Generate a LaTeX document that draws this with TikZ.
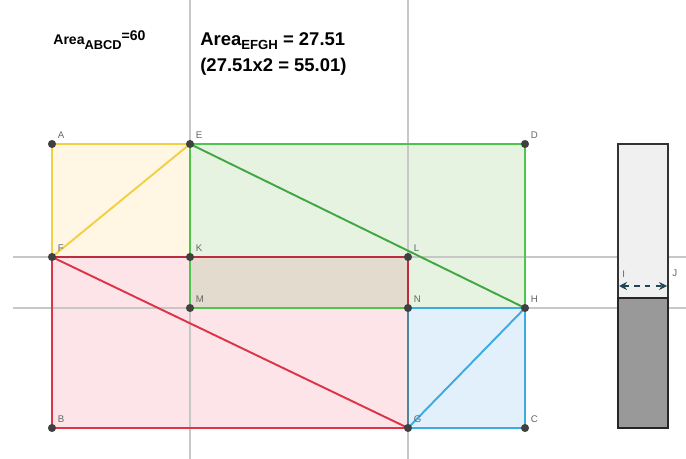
\documentclass[tikz,border=0pt]{standalone}
\usepackage{fontspec}
\setmainfont{Liberation Sans}
\usetikzlibrary{arrows.meta,positioning}
\definecolor{yelline}{RGB}{242,208,70}
\definecolor{yelfill}{RGB}{255,246,228}
\definecolor{grnline}{RGB}{78,196,78}
\definecolor{grnfill}{RGB}{230,243,225}
\definecolor{redline}{RGB}{222,52,72}
\definecolor{redfill}{RGB}{252,228,232}
\definecolor{bluline}{RGB}{62,170,226}
\definecolor{blufill}{RGB}{226,240,252}
\definecolor{mixfill}{RGB}{226,219,206}
\definecolor{arrowcol}{RGB}{30,70,85}
\begin{document}
\begin{tikzpicture}[x=0.02cm,y=-0.02cm,
  guide/.style={black!22,line width=0.8pt},
  edge/.style={line width=1.1pt,line join=round},
  pt/.style={circle,fill=black!75,inner sep=0pt,minimum size=4.6pt},
  lbl/.style={font=\fontsize{5.5}{5.5}\selectfont,text=black!60,inner sep=0.6pt}]
  \useasboundingbox (0,0) rectangle (686,459);
  % points
  \coordinate (A) at (52,144);  \coordinate (E) at (190,144); \coordinate (D) at (525,144);
  \coordinate (F) at (52,257);  \coordinate (K) at (190,257); \coordinate (L) at (408,257);
  \coordinate (M) at (190,308); \coordinate (N) at (408,308); \coordinate (H) at (525,308);
  \coordinate (B) at (52,428);  \coordinate (G) at (408,428); \coordinate (C) at (525,428);
  % fills
  \fill[yelfill] (A) rectangle (K);
  \fill[grnfill] (E) rectangle (H);
  \fill[redfill] (F) rectangle (G);
  \fill[blufill] (N) rectangle (C);
  \fill[mixfill] (K) rectangle (N);
  % guide lines
  \draw[guide] (190,0) -- (190,459);
  \draw[guide] (408,0) -- (408,459);
  \draw[guide] (13,257) -- (686,257);
  \draw[guide] (13,308) -- (686,308);
  % yellow
  \draw[edge,yelline] (F) -- (A) -- (E) -- cycle;
  % green
  \draw[edge,grnline] (M) -- (E) -- (D) -- (H) -- (M);
  \draw[edge,grnline!85!black] (E) -- (H);
  % red
  \draw[edge,redline!85!black] (F) -- (L) -- (N);
  \draw[edge,redline] (F) -- (B) -- (G) -- cycle;
  % blue
  \draw[edge,bluline] (N) -- (H) -- (C) -- (G) -- cycle (G) -- (H);
  \draw[edge,bluline!60!black!80] (N) -- (G);
  \foreach \p in {A,B,C,D,E,F,G,H,K,L,M,N} {
    \node[pt] (d\p) at (\p) {};
    \node[lbl,above right=0.4pt and 0.8pt of d\p] (l\p) {\p};
  }
  % bar
  \draw[line width=0.9pt,draw=black!80,fill=black!6] (618,144) rectangle (668,298);
  \draw[line width=0.9pt,draw=black!85,fill=black!40] (618,298) rectangle (668,428);
  \coordinate (I) at (619,286); \coordinate (J) at (667,286);
  \draw[arrowcol,line width=1pt,dashed,{Stealth[length=4.5pt,width=4.5pt]}-{Stealth[length=4.5pt,width=4.5pt]}] (I) -- (J);
  \node[lbl,anchor=south west] (lI) at (621,279) {I};
  \node[lbl,anchor=south west] (lJ) at (671,278) {J};
  % texts
  \node[anchor=base west,inner sep=0pt,font=\bfseries\fontsize{8}{8}\selectfont] (areaABCD) at (53,45)
    {Area\raisebox{-2.6pt}{\fontsize{7.3}{7.3}\selectfont ABCD}\raisebox{2.3pt}{=60}};
  \node[anchor=base west,inner sep=0pt,font=\bfseries\fontsize{10.5}{10.5}\selectfont] (areaEFGH) at (200,46)
    {Area\raisebox{-2pt}{\fontsize{7.5}{7.5}\selectfont EFGH} = 27.51};
  \node[inner sep=0pt,font=\bfseries\fontsize{10.5}{10.5}\selectfont,below=14.6pt of areaEFGH.base west,anchor=base west] (dbl)
    {(27.51x2 = 55.01)};
\end{tikzpicture}
\end{document}
